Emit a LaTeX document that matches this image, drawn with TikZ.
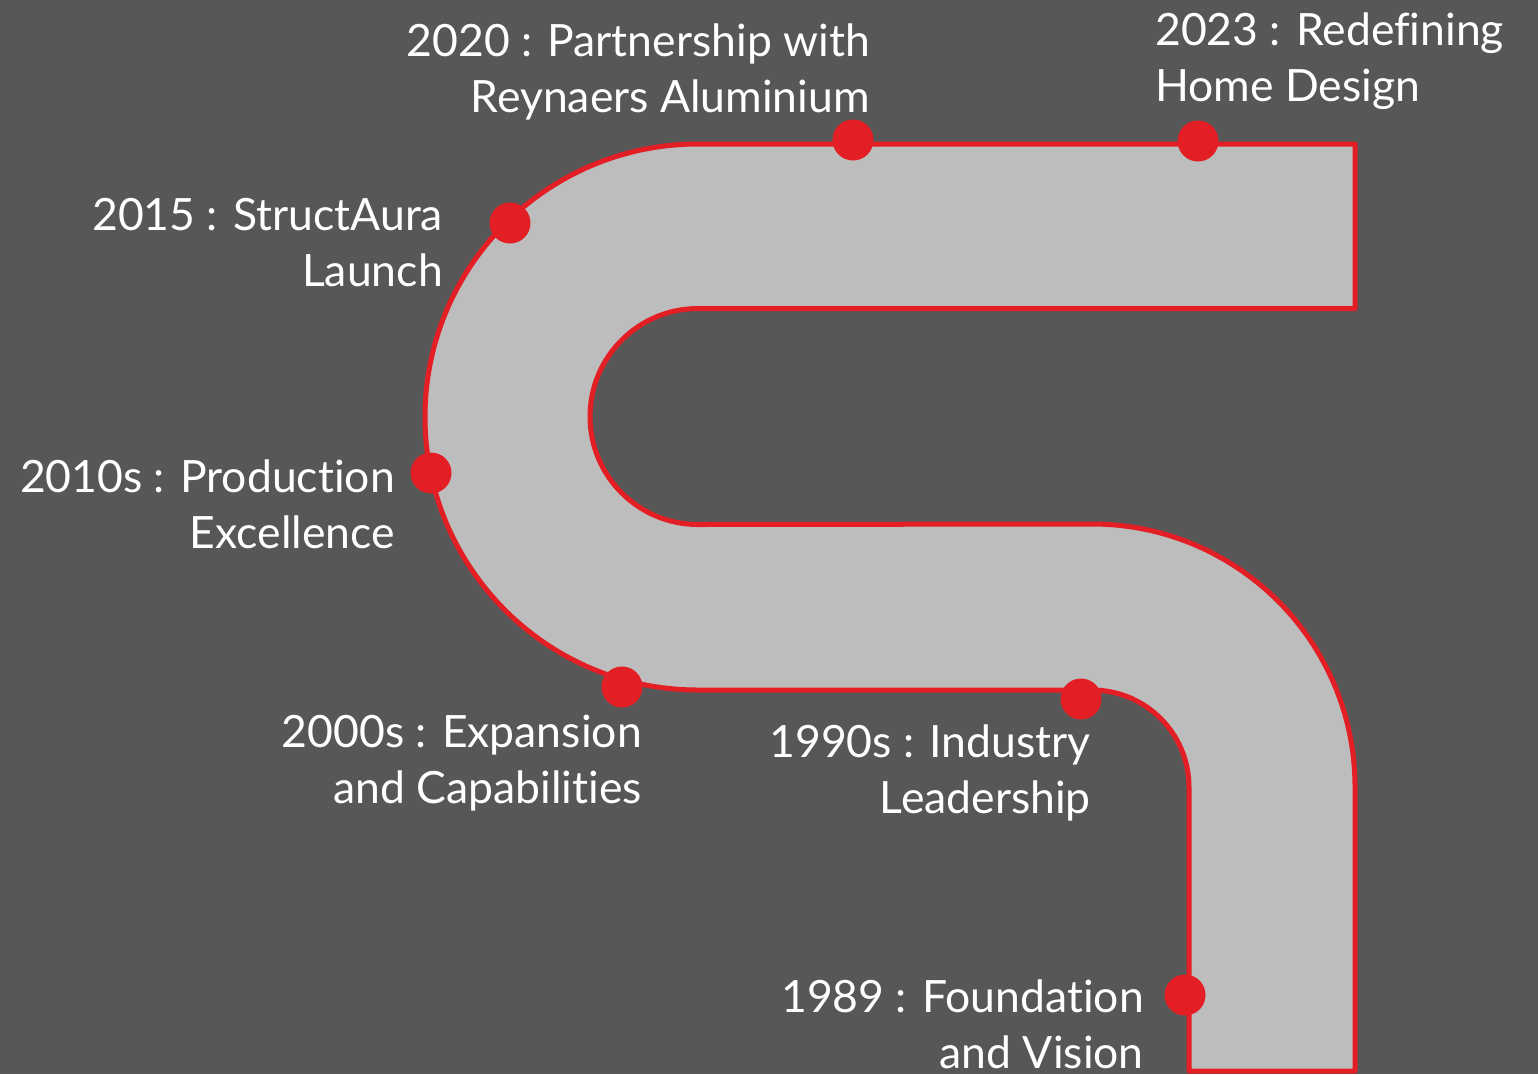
\documentclass[tikz,border=0pt]{standalone}
\usepackage{fontspec}
\setmainfont{Lato}[Ligatures=NoCommon]
\definecolor{bgc}{HTML}{575757}
\definecolor{bandc}{HTML}{BDBDBD}
\definecolor{redc}{HTML}{E31E24}
\tikzset{
  band/.style={fill=bandc, draw=redc, line width=5pt, line join=round},
  dot/.style={circle, fill=redc, minimum size=41pt, inner sep=0pt},
  lblr/.style={text=white, inner sep=0pt, align=right, font=\fontsize{44.5}{55.5}\selectfont},
  lbll/.style={text=white, inner sep=0pt, align=left, font=\fontsize{44.5}{55.5}\selectfont}
}
\begin{document}
\begin{tikzpicture}[x=1pt,y=1pt]
\fill[bgc] (0,0) rectangle (1538,-1074);
\useasboundingbox (0,0) rectangle (1538,-1074);
\draw[band] (1355,-144) -- (698,-144)
  arc[start angle=90, end angle=270, radius=273pt]
  -- (1092,-690)
  arc[start angle=90, end angle=0, radius=97pt]
  -- (1189,-1071) -- (1355,-1071) -- (1355,-787)
  arc[start angle=0, end angle=90, radius=263pt]
  -- (698,-524.5)
  arc[start angle=270, end angle=90, radius=108pt]
  -- (1355,-308.5) -- cycle;
\node[dot] (d2020) at (853,-140) {};
\node[dot] (d2023) at (1198,-141) {};
\node[dot] (d2015) at (510,-223) {};
\node[dot] (d2010) at (431,-473) {};
\node[dot] (d2000) at (622,-687) {};
\node[dot] (d1990) at (1081,-699) {};
\node[dot] (d1989) at (1185,-995) {};
\node[lblr, anchor=base east] (t2020) at (870,-112) {2020 : Partnership with\\Reynaers Aluminium};
\node[lbll, anchor=base west] (t2023) at (1155,-101) {2023 : Redefining\\Home Design};
\node[lblr, anchor=base east] (t2015) at (443,-286) {2015 : StructAura\\Launch};
\node[lblr, anchor=base east] (t2010) at (395,-548) {2010s : Production\\Excellence};
\node[lblr, anchor=base east] (t2000) at (642,-803) {2000s : Expansion\\and Capabilities};
\node[lblr, anchor=base east] (t1990) at (1091,-813) {1990s : Industry\\Leadership};
\node[lblr, anchor=base east] (t1989) at (1144,-1068) {1989 : Foundation\\and Vision};
\end{tikzpicture}
\end{document}
